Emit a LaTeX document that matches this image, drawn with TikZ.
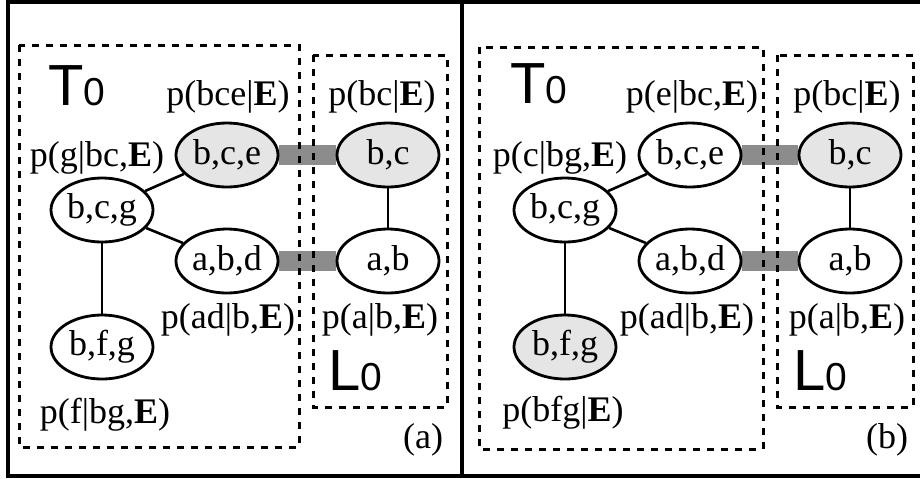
\documentclass[tikz,border=0pt]{standalone}
\usepackage{fontspec}
\setmainfont{Liberation Serif}
\newfontfamily\sansfam{Liberation Sans}
\usetikzlibrary{shapes.geometric, backgrounds}

\tikzset{
  clique/.style={ellipse, draw, line width=1.4pt, fill=white, inner sep=0pt,
                 minimum width=51pt, minimum height=32pt},
  evclique/.style={clique, fill=black!10},
  sepband/.style={line width=10pt, draw=black!45},
  region/.style={draw, line width=1.5pt, dash pattern=on 3.5pt off 3.5pt},
  link/.style={line width=1.3pt},
  tag/.style={font=\fontsize{18}{20}\selectfont},
}
\newcommand{\setname}[1]{{\fontsize{29}{29}\selectfont\sansfam #1}}
\newcommand{\setidx}[1]{{\fontsize{19.5}{19.5}\selectfont\sansfam #1}}

\begin{document}
\begin{tikzpicture}[x=0.5pt, y=-0.5pt, tag]
    \useasboundingbox (0,0) rectangle (920,478);
    % Frame
    \draw[line width=1.6pt] (8,2) rectangle (923,476);
    \draw[line width=1.6pt] (462,2) -- (462,476);

    % Nodes (a)
    \node[evclique] (bceA) at (227,155) {b,c,e};
    \node[evclique] (bcA)  at (388,155) {b,c};
    \node[clique]   (bcgA) at (102,210) {b,c,g};
    \node[clique]   (abdA) at (227,261) {a,b,d};
    \node[clique]   (abA)  at (388,261) {a,b};
    \node[clique]   (bfgA) at (102,347) {b,f,g};

    % Nodes (b)
    \node[clique]   (bceB) at (690,155) {b,c,e};
    \node[evclique] (bcB)  at (850,155) {b,c};
    \node[clique]   (bcgB) at (565,210) {b,c,g};
    \node[clique]   (abdB) at (690,261) {a,b,d};
    \node[clique]   (abB)  at (850,261) {a,b};
    \node[evclique] (bfgB) at (565,347) {b,f,g};

    % Edges
    \draw[link] (bcgA) -- (bceA);
    \draw[link] (bcgA) -- (abdA);
    \draw[link] (bcgA) -- (bfgA);
    \draw[link] (bcA) -- (abA);
    \draw[link] (bcgB) -- (bceB);
    \draw[link] (bcgB) -- (abdB);
    \draw[link] (bcgB) -- (bfgB);
    \draw[link] (bcB) -- (abB);
    \begin{scope}[on background layer]
        \draw[sepband] (bceA) -- (bcA);
        \draw[sepband] (abdA) -- (abA);
        \draw[sepband] (bceB) -- (bcB);
        \draw[sepband] (abdB) -- (abB);
    \end{scope}

    % Regions
    \draw[region] (19,45) rectangle (299,447);
    \draw[region] (313,55) rectangle (447,407);
    \draw[region] (479,47) rectangle (763,449);
    \draw[region] (777,55) rectangle (913,407);

    % Labels (a)
    \node[anchor=base west] at (41,105) {\setname{T}\setidx{0}};
    \node[anchor=base west] at (321,390) {\setname{L}\setidx{0}};
    \node at (228,97)  {p(bce|\textbf{E})};
    \node at (382,97)  {p(bc|\textbf{E})};
    \node at (97,158)  {p(g|bc,\textbf{E})};
    \node at (228,320) {p(ad|b,\textbf{E})};
    \node at (380,320) {p(a|b,\textbf{E})};
    \node at (105,415) {p(f|bg,\textbf{E})};
    \node at (423,440) {(a)};

    % Labels (b)
    \node[anchor=base west] at (503,103) {\setname{T}\setidx{0}};
    \node[anchor=base west] at (786,390) {\setname{L}\setidx{0}};
    \node at (692,97)  {p(e|bc,\textbf{E})};
    \node at (847,97)  {p(bc|\textbf{E})};
    \node at (560,158) {p(c|bg,\textbf{E})};
    \node at (687,320) {p(ad|b,\textbf{E})};
    \node at (847,320) {p(a|b,\textbf{E})};
    \node at (563,413) {p(bfg|\textbf{E})};
    \node at (887,440) {(b)};
\end{tikzpicture}
\end{document}
